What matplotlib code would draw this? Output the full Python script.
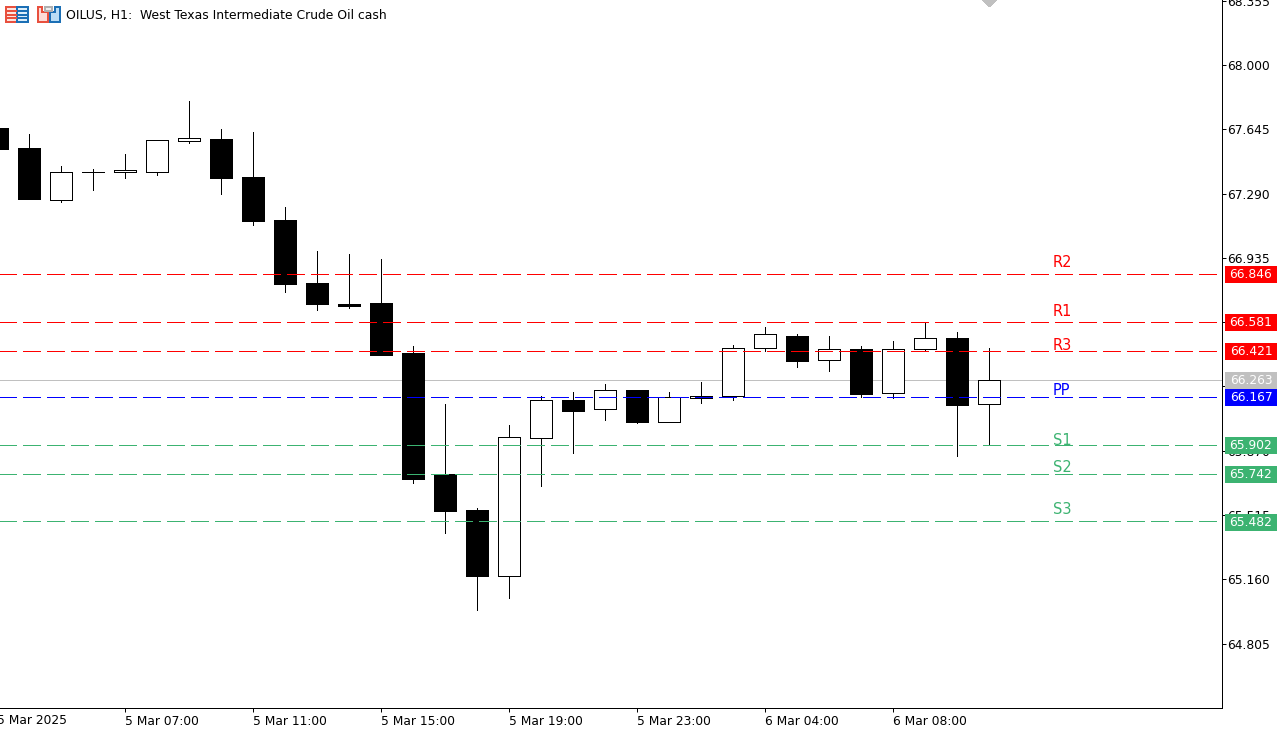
"""OILUS H1 candlestick chart with pivot levels."""

import matplotlib
matplotlib.use("Agg")
import matplotlib.pyplot as plt
from matplotlib.patches import Polygon, Rectangle

W, H = 1288, 733
DPI = 100
PX = 72 / DPI

# candles, oldest first
opens = [67.653, 67.542, 67.256, 67.410, 67.407, 67.410, 67.581, 67.592, 67.383, 67.146,
         66.798, 66.682, 66.688, 66.407, 65.740, 65.541, 65.180, 65.941, 66.148, 66.098,
         66.208, 66.029, 66.162, 66.172, 66.437, 66.506, 66.371, 66.434, 66.189, 66.432,
         66.495, 66.128]
highs = [67.653, 67.620, 67.443, 67.427, 67.509, 67.587, 67.802, 67.647, 67.631, 67.217,
         66.975, 66.958, 66.931, 66.451, 66.126, 65.552, 66.010, 66.170, 66.197, 66.241,
         66.208, 66.192, 66.247, 66.456, 66.556, 66.517, 66.501, 66.451, 66.478, 66.578,
         66.523, 66.440]
lows = [67.537, 67.261, 67.245, 67.311, 67.377, 67.394, 67.570, 67.289, 67.118, 66.749,
        66.649, 66.660, 66.396, 65.690, 65.415, 64.990, 65.056, 65.674, 65.856, 66.037,
        66.021, 66.029, 66.131, 66.148, 66.423, 66.330, 66.308, 66.164, 66.159, 66.423,
        65.839, 65.905]
closes = [67.537, 67.261, 67.410, 67.410, 67.421, 67.587, 67.598, 67.377, 67.140, 66.793,
          66.682, 66.671, 66.401, 65.712, 65.536, 65.177, 65.944, 66.148, 66.087, 66.208,
          66.026, 66.164, 66.175, 66.440, 66.512, 66.368, 66.434, 66.186, 66.434, 66.495,
          66.120, 66.263]

first_label = "5 Mar 2025"
time_ticks = [4, 8, 12, 16, 20, 24, 28]
time_labels = ["5 Mar 07:00", "5 Mar 11:00", "5 Mar 15:00",
               "5 Mar 19:00", "5 Mar 23:00", "6 Mar 04:00", "6 Mar 08:00"]
price_ticks = [68.355, 68.000, 67.645, 67.290, 66.935, 66.580, 66.225,
               65.870, 65.515, 65.160, 64.805]

level_names = ["R2", "R1", "R3", "PP", "S1", "S2", "S3"]
level_values = [66.846, 66.581, 66.421, 66.167, 65.902, 65.742, 65.482]
level_colors = ["#FF0000", "#FF0000", "#FF0000", "#0000FF", "#3CB371", "#3CB371", "#3CB371"]
# how far each name sits above its line, pixels
level_lifts = [11, 10, 5, 6, 4, 6, 12]
bid = 66.263

plt.rcParams["font.family"] = ["DejaVu Sans"]
plt.rcParams["lines.antialiased"] = False
plt.rcParams["patch.antialiased"] = False

AX_W = 1222
PX_PER_PRICE = 181.1
fig = plt.figure(figsize=(W / DPI, H / DPI), dpi=DPI)
ax = fig.add_axes([0, 1 - 708 / H, AX_W / W, 708 / H])

for side in ["left", "top"]:
    ax.spines[side].set_visible(False)
for side in ["right", "bottom"]:
    ax.spines[side].set_linewidth(PX)

ax.yaxis.tick_right()
ax.set_yticks(price_ticks, [f"{p:.3f}" for p in price_ticks])
ax.set_xticks(time_ticks, time_labels, ha="left")
ax.tick_params(axis="both", length=3, width=PX, labelsize=8.8, pad=2)
ax.tick_params(axis="y", pad=1)

# limits last, set_xticks would widen them
ax.set_xlim(3 / 32, (AX_W + 3) / 32)
ax.set_ylim(68 - 643 / PX_PER_PRICE, 68 + 65 / PX_PER_PRICE)

# the first candle sits off the left edge, so its label is placed by hand
ax.annotate(first_label, xy=(0, 0), xycoords=ax.get_xaxis_transform(), xytext=(0, -6),
            textcoords="offset pixels", fontsize=8.8, ha="left", va="top",
            annotation_clip=False)

ax.axhline(bid, color="#C0C0C0", lw=PX, zorder=1)

xs = list(range(len(opens)))
ax.vlines(xs, lows, highs, color="black", lw=PX, zorder=2)
for x, o, c in zip(xs, opens, closes):
    face = "white" if c >= o else "black"
    ax.add_patch(Rectangle((x - 11 / 32, min(o, c)), 22 / 32, abs(c - o),
                           facecolor=face, edgecolor="black", lw=PX, zorder=3))

to_x = ax.get_yaxis_transform()
for name, value, color, lift in zip(level_names, level_values, level_colors, level_lifts):
    ax.plot([0, ax.get_xlim()[1]], [value, value], color=color, lw=PX,
            linestyle=(0, (18, 6)), zorder=4)
    ax.annotate(name, xy=(33, value), xytext=(0, lift), textcoords="offset pixels",
                color=color, fontsize=10.5, ha="left", va="center", zorder=5)

# price tags on the scale
tags = [(bid, "#C0C0C0")] + list(zip(level_values, level_colors))
for value, color in tags:
    ax.add_patch(Rectangle((1 + 3 / AX_W, value - 9.5 / PX_PER_PRICE), 52 / AX_W, 17 / PX_PER_PRICE,
                           transform=to_x, facecolor=color, edgecolor="none",
                           clip_on=False, zorder=6))
    ax.annotate(f"{value:.3f}", xy=(1, value), xycoords=to_x, xytext=(29, -1),
                textcoords="offset pixels", color="white", fontsize=8.8,
                ha="center", va="center", annotation_clip=False, zorder=7)

# header strip in pixel coordinates
top = fig.add_axes([0, 0, 1, 1], facecolor="none")
top.set_xlim(0, W)
top.set_ylim(H, 0)
top.axis("off")

RED = "#E8503E"
BLUE = "#1B6FB5"
top.add_patch(Rectangle((6, 7), 11, 15, facecolor="#FDE4E0", edgecolor=RED, lw=1.5 * PX))
top.add_patch(Rectangle((17, 7), 11, 15, facecolor="#DCEEFA", edgecolor=BLUE, lw=1.5 * PX))
for y in [11, 14.5, 18]:
    top.plot([8, 16], [y, y], color=RED, lw=1.5 * PX)
    top.plot([18, 26], [y, y], color=BLUE, lw=1.5 * PX)
top.add_patch(Polygon([(38, 7), (42, 7), (42, 12), (48, 12), (48, 22), (38, 22)],
                      facecolor="#FDDCD8", edgecolor=RED, lw=1.5 * PX))
top.add_patch(Polygon([(50, 22), (50, 12), (55, 12), (55, 7), (60, 7), (60, 22)],
                      facecolor="#BBDDF5", edgecolor=BLUE, lw=1.5 * PX))
top.add_patch(Rectangle((45, 7), 7, 4, facecolor="#EEEEEE", edgecolor="#B0B0B0", lw=1.5 * PX))
top.text(66, 15, "OILUS, H1:  West Texas Intermediate Crude Oil cash",
         fontsize=8.9, ha="left", va="center", color="black")
top.add_patch(Polygon([(982, 0), (997, 0), (989.5, 7)], facecolor="#C0C0C0", edgecolor="none"))

fig.savefig("out.png", dpi=DPI)
